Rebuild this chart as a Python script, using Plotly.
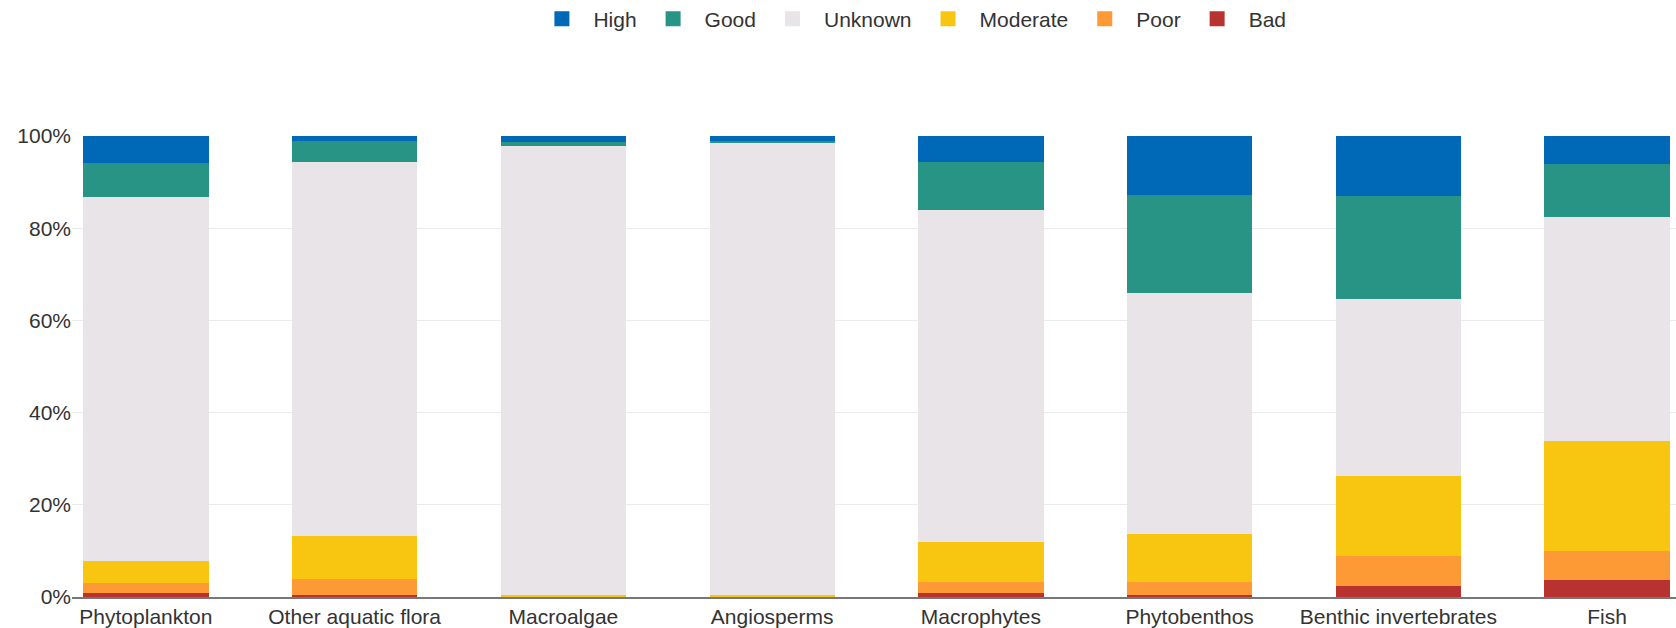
import plotly.graph_objects as go

categories = ["Phytoplankton", "Other aquatic flora", "Macroalgae", "Angiosperms",
              "Macrophytes", "Phytobenthos", "Benthic invertebrates", "Fish"]

bad      = [0.9, 0.4, 0.0, 0.0, 0.9, 0.5, 2.4, 3.7]
poor     = [2.1, 3.6, 0.0, 0.0, 2.3, 2.7, 6.6, 6.3]
moderate = [4.8, 9.2, 0.5, 0.5, 8.8, 10.5, 17.2, 23.9]
unknown  = [79.0, 81.2, 97.3, 98.0, 72.0, 52.3, 38.4, 48.5]
good     = [7.3, 4.5, 1.0, 0.5, 10.3, 21.3, 22.3, 11.6]
high     = [5.9, 1.1, 1.2, 1.0, 5.7, 12.7, 13.1, 6.0]

y_ticks = [0, 20, 40, 60, 80, 100]
y_tick_labels = ["0%", "20%", "40%", "60%", "80%", "100%"]

series = [
    ("Bad", bad, "#b8322f"),
    ("Poor", poor, "#fd9a35"),
    ("Moderate", moderate, "#f8c610"),
    ("Unknown", unknown, "#e8e4e8"),
    ("Good", good, "#289486"),
    ("High", high, "#0069b7"),
]

fig = go.Figure()
for name, vals, color in series:
    fig.add_trace(go.Bar(
        x=categories, y=vals, name=name, width=0.6, showlegend=False,
        legendgroup=name,
        marker=dict(color=color, line=dict(width=0)),
        hovertemplate="%{x}<br>" + name + ": %{y}%<extra></extra>",
    ))
# legend entries with larger square swatches
for name, vals, color in series:
    fig.add_trace(go.Scatter(
        x=[None], y=[None], mode="markers", name=name, legendgroup=name,
        marker=dict(symbol="square", size=15, color=color),
        hoverinfo="skip",
    ))

fig.update_layout(
    barmode="stack",
    width=1676, height=628,
    margin=dict(l=72, r=0, t=136, b=29),
    paper_bgcolor="white", plot_bgcolor="white",
    font=dict(family="Liberation Sans, Arial, sans-serif", size=21, color="#333333"),
    legend=dict(
        orientation="h", traceorder="reversed",
        xref="container", yref="container",
        x=0.5435, xanchor="center", y=1 - 19 / 628, yanchor="middle",
        itemwidth=53,
        font=dict(size=21, color="#333333"),
    ),
    showlegend=True,
)
fig.update_xaxes(
    range=[-0.354, 7.33], showgrid=False,
    showline=True, linecolor="#777777", linewidth=2,
    ticks="", tickfont=dict(size=21, color="#333333"),
)
fig.update_yaxes(
    range=[0, 100], tickvals=y_ticks, ticktext=y_tick_labels,
    showgrid=True, gridcolor="#ebebeb", gridwidth=1,
    zeroline=False, ticks="", ticklabelstandoff=0,
    tickfont=dict(size=21, color="#333333"),
)

fig.write_html("out.html")
